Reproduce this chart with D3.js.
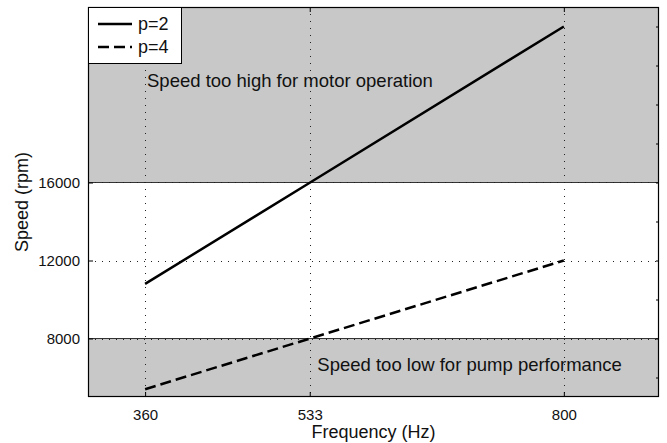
<!DOCTYPE html>
<html>
<head>
<meta charset="utf-8">
<script src="https://cdn.jsdelivr.net/npm/d3@7"></script>
<style>
  body { margin: 0; background: #fff; }
  svg { font-family: "Liberation Sans", Arial, sans-serif; }
</style>
</head>
<body>
<div id="chart"></div>
<script>
// data
var freq = [360, 533, 800];
var speedP2 = [10800, 15990, 24000];
var speedP4 = [5400, 7995, 12000];
var seriesNames = ["p=2", "p=4"];
var xTicks = [360, 533, 800];
var yTicks = [8000, 12000, 16000];
var yMinorTicks = [6000, 8000, 10000, 12000, 14000, 16000, 18000, 20000, 22000, 24000];
var highBand = [16000, 25000];
var lowBand = [5000, 8000];
var highLabel = "Speed too high for motor operation";
var lowLabel = "Speed too low for pump performance";

var W = 667, H = 443;
var margin = { top: 7, right: 8, bottom: 46, left: 88 };
var width = W - margin.left - margin.right,
    height = H - margin.top - margin.bottom;

var svg = d3.select("#chart").append("svg")
  .attr("width", W)
  .attr("height", H);

var g = svg.append("g")
  .attr("transform", "translate(" + margin.left + "," + margin.top + ")");

var x = d3.scaleLinear().domain([300, 900]).range([0, width]);
var y = d3.scaleLinear().domain([5000, 25000]).range([height, 0]);

// gray bands
[highBand, lowBand].forEach(function(b) {
  g.append("rect")
    .attr("x", 0)
    .attr("width", width)
    .attr("y", y(b[1]))
    .attr("height", y(b[0]) - y(b[1]))
    .attr("fill", "#c8c8c8");
});
// band edges
[16000, 8000].forEach(function(v) {
  g.append("line")
    .attr("x1", 0).attr("x2", width)
    .attr("y1", y(v)).attr("y2", y(v))
    .attr("stroke", "#333").attr("stroke-width", 1);
});

// grid
g.selectAll(".vgrid").data(xTicks).enter().append("line")
  .attr("x1", function(d) { return Math.round(x(d)) + 0.5; })
  .attr("x2", function(d) { return Math.round(x(d)) + 0.5; })
  .attr("y1", 0).attr("y2", height)
  .attr("stroke", "#222").attr("stroke-width", 1)
  .attr("stroke-dasharray", "1,6");
g.selectAll(".hgrid").data(yTicks).enter().append("line")
  .attr("x1", 0).attr("x2", width)
  .attr("y1", function(d) { return Math.round(y(d)) + 0.5; })
  .attr("y2", function(d) { return Math.round(y(d)) + 0.5; })
  .attr("stroke", "#222").attr("stroke-width", 1)
  .attr("stroke-dasharray", "1,6");

// lines
var line = d3.line()
  .x(function(d, i) { return x(freq[i]); })
  .y(function(d) { return y(d); });

g.append("path").datum(speedP2)
  .attr("d", line)
  .attr("fill", "none").attr("stroke", "#000").attr("stroke-width", 2.5);
g.append("path").datum(speedP4)
  .attr("d", line)
  .attr("fill", "none").attr("stroke", "#000").attr("stroke-width", 2.5)
  .attr("stroke-dasharray", "11,5");

// annotations
g.append("text")
  .attr("x", x(362)).attr("y", y(20900))
  .attr("font-size", 18.5).attr("fill", "#111")
  .text(highLabel);
g.append("text")
  .attr("x", x(541)).attr("y", y(6350))
  .attr("font-size", 18.5).attr("fill", "#111")
  .text(lowLabel);

// axes
var xAxis = d3.axisBottom(x).tickValues(xTicks).tickSize(-5).tickPadding(12)
  .tickFormat(d3.format("d"));
var yAxis = d3.axisLeft(y).tickValues(yTicks).tickSize(-5).tickPadding(8)
  .tickFormat(d3.format("d"));

var gx = g.append("g").attr("transform", "translate(0," + height + ")").call(xAxis);
var gy = g.append("g").call(yAxis);
[gx, gy].forEach(function(a) {
  a.select(".domain").remove();
  a.selectAll("text").attr("font-size", 15).attr("fill", "#111")
    .attr("font-family", "Liberation Sans, Arial, sans-serif");
  a.selectAll("line").attr("stroke", "#000");
});

// top ticks and right ticks
g.append("g").call(d3.axisTop(x).tickValues(xTicks).tickSize(-5).tickFormat(""))
  .select(".domain").remove();
var gr = g.append("g").attr("transform", "translate(" + width + ",0)")
  .call(d3.axisRight(y).tickValues(yMinorTicks).tickSize(-3).tickFormat(""));
gr.select(".domain").remove();

// box
g.append("rect")
  .attr("x", 0.5).attr("y", 0.5)
  .attr("width", width - 1).attr("height", height - 1)
  .attr("fill", "none").attr("stroke", "#000").attr("stroke-width", 1.2);

// axis labels
svg.append("text")
  .attr("x", margin.left + width / 2)
  .attr("y", H - 5)
  .attr("text-anchor", "middle")
  .attr("font-size", 18).attr("fill", "#111")
  .text("Frequency (Hz)");
svg.append("text")
  .attr("transform", "translate(" + 28 + "," + (margin.top + height / 2) + ") rotate(-90)")
  .attr("text-anchor", "middle")
  .attr("font-size", 18).attr("fill", "#111")
  .text("Speed (rpm)");

// legend
var lg = g.append("g");
lg.append("rect")
  .attr("x", 0.5).attr("y", 0.5)
  .attr("width", 93).attr("height", 56)
  .attr("fill", "#fff").attr("stroke", "#000").attr("stroke-width", 1);
seriesNames.forEach(function(name, i) {
  var ly = 17 + i * 23;
  lg.append("line")
    .attr("x1", 10).attr("x2", 44)
    .attr("y1", ly).attr("y2", ly)
    .attr("stroke", "#000").attr("stroke-width", 2.5)
    .attr("stroke-dasharray", i === 1 ? "11,5" : null);
  lg.append("text")
    .attr("x", 50).attr("y", ly + 6)
    .attr("font-size", 18).attr("fill", "#111")
    .text(name);
});
</script>
</body>
</html>
